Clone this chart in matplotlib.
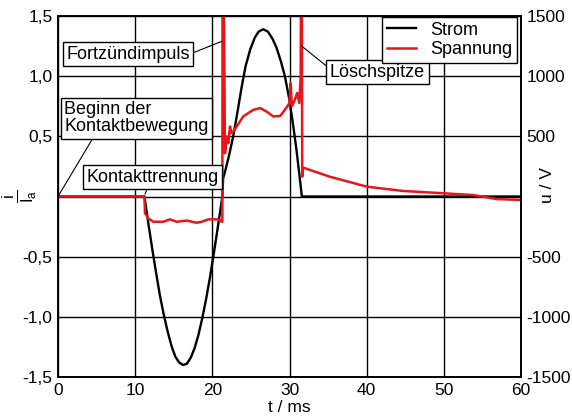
import matplotlib
matplotlib.use('Agg')
from matplotlib import pyplot as plt

plt.rcParams['font.family'] = ['Liberation Sans', 'DejaVu Sans']
plt.rcParams['mathtext.fontset'] = 'custom'
plt.rcParams['mathtext.rm'] = 'Liberation Sans'
plt.rcParams['mathtext.it'] = 'Liberation Sans'

# Strom i/Ia
t_strom = [0, 11.2, 11.7, 12.2, 12.7, 13.2, 13.7, 14.2, 14.7, 15.2, 15.7, 16.2,
           16.7, 17.2, 17.7, 18.2, 18.7, 19.2, 19.7, 20.2, 20.7, 21.3,
           21.4, 21.7, 22.2, 22.7, 23.2, 23.8, 24.3, 24.9, 25.5, 26.0, 26.6,
           27.2, 27.8, 28.3, 28.9, 29.4, 30.0, 30.5, 30.9, 31.3, 31.6, 60]
i_strom = [0, 0, -0.22, -0.43, -0.63, -0.82, -0.98, -1.12, -1.24, -1.33, -1.38, -1.40,
           -1.39, -1.34, -1.26, -1.15, -1.01, -0.85, -0.67, -0.47, -0.26, 0,
           0.15, 0.22, 0.35, 0.50, 0.68, 0.91, 1.08, 1.22, 1.32, 1.37, 1.39,
           1.37, 1.31, 1.24, 1.12, 1.00, 0.80, 0.58, 0.39, 0.17, 0.0, 0]

# Spannung u in V
t_spann = [0, 11.2, 11.27, 11.7, 12.35, 13.64, 14.51, 15.38, 16.68, 17.97, 18.62,
           19.48, 20.57, 20.99, 21.21, 21.3, 21.34, 21.64, 21.86, 22.07, 22.29,
           22.5, 22.72, 23.15, 24.0, 25.3, 26.2, 27.0, 27.9, 28.8, 29.4, 30.0,
           30.15, 30.3, 30.7, 31.0, 31.27, 31.45, 31.55, 31.65, 31.72, 32.0,
           35.2, 40.0, 44.7, 49.9, 53.8, 56.8, 60]
u_spann = [0, 0, -138, -182, -210, -210, -190, -210, -200, -218, -210,
           -190, -190, -195, -210, -210, 3000, 360, 498, 443, 582,
           527, 540, 582, 665, 720, 735, 707, 665, 670, 720, 777,
           943, 750, 805, 860, 777, 1000, 3000, 165, 237, 235,
           165, 82, 46, 27, 12, -21, -29]

fig = plt.figure(figsize=(5.72, 4.2), dpi=100)
ax = fig.add_axes([58/572, 43/420, 463/572, 361/420])
ax2 = ax.twinx()

ln1, = ax.plot(t_strom, i_strom, c='black', lw=1.7)
ln2, = ax2.plot(t_spann, u_spann, c='#e8161b', lw=1.8)

ax.set_xlim(0, 60)
ax.set_ylim(-1.5, 1.5)
ax2.set_ylim(-1500, 1500)
ax.set_xticks(range(0, 61, 10))
ax.set_yticks([-1.5, -1.0, -0.5, 0, 0.5, 1.0, 1.5])
ax.set_yticklabels(['-1,5', '-1,0', '-0,5', '', '0,5', '1,0', '1,5'])
ax2.set_yticks([-1500, -1000, -500, 0, 500, 1000, 1500])
ax2.set_yticklabels(['-1500', '-1000', '-500', '', '500', '1000', '1500'])
ax.grid(True, color='black', lw=1)
for a in (ax, ax2):
    a.tick_params(length=0, labelsize=12.5, pad=4)
    for s in a.spines.values():
        s.set_linewidth(1.2)
ax.set_zorder(1)
ax.patch.set_visible(False)
ax2.set_zorder(2)

ax.set_xlabel('t / ms', fontsize=12.5, labelpad=2)
fig.text(20/572, 1 - 196/420, r'$\frac{i}{I_\mathrm{a}}$', fontsize=17,
         rotation=90, ha='center', va='center')
fig.text(548/572, 1 - 185/420, 'u / V', fontsize=12.5,
         rotation=90, ha='center', va='center')

box = dict(boxstyle='square,pad=0.2', fc='white', ec='black', lw=1)
arr = dict(arrowstyle='-', color='black', lw=0.8, shrinkA=0, shrinkB=0)

ax2.annotate('Fortzündimpuls', xy=(21.25, 1290), xytext=(9.07, 1183), fontsize=13,
             ha='center', va='center', bbox=box,
             arrowprops=dict(arr, relpos=(1, 0.5)))
ax2.annotate('Beginn der\nKontaktbewegung', xy=(0, 0), xytext=(10.17, 650), fontsize=13,
             ha='center', va='center', multialignment='left', bbox=box, linespacing=1.0,
             arrowprops=dict(arr, relpos=(0.21, 0)))
ax2.annotate('Kontakttrennung', xy=(11.27, 20), xytext=(12.25, 162), fontsize=13,
             ha='center', va='center', bbox=box,
             arrowprops=dict(arr, relpos=(0.47, 0)))
ax2.annotate('Löschspitze', xy=(31.58, 1250), xytext=(41.4, 1033), fontsize=13,
             ha='center', va='center', bbox=box,
             arrowprops=dict(arr, relpos=(0, 0.7)))

leg = ax2.legend(handles=[ln1, ln2], labels=['Strom', 'Spannung'], loc='upper right',
                 bbox_to_anchor=(0.991, 0.997), borderaxespad=0, fontsize=13,
                 fancybox=False, framealpha=1, edgecolor='black', handlelength=1.6,
                 borderpad=0.25, labelspacing=0.15)
leg.get_frame().set_linewidth(1)

fig.savefig('out.png', dpi=100)
